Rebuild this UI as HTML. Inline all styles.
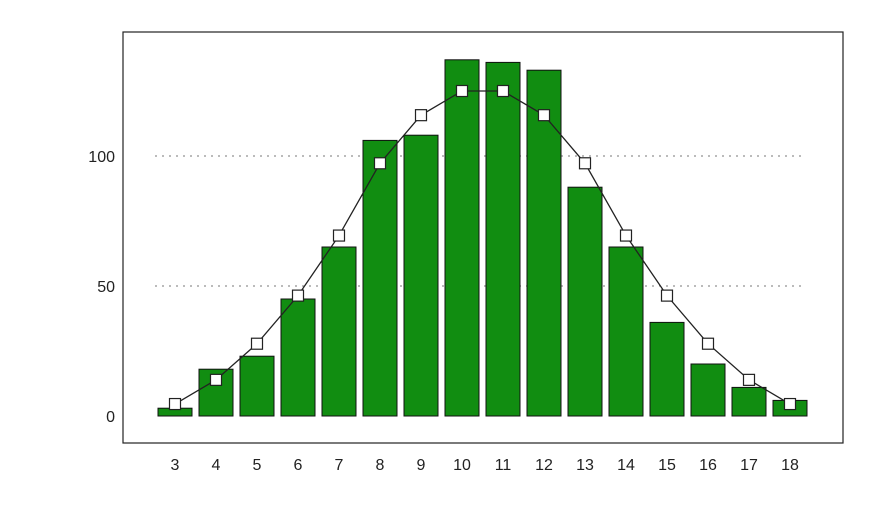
<!DOCTYPE html>
<html><head><meta charset="utf-8"><style>
body{margin:0;background:#fff;}
svg{display:block;font-family:"Liberation Sans",sans-serif;}
</style></head><body>
<svg id="chart" width="893" height="510" viewBox="0 0 893 510">
<rect x="123" y="32" width="720" height="411" fill="#fff" stroke="#222" stroke-width="1.2"/>
<g id="grid"></g><g id="bars"></g><g id="line"></g><g id="axes"></g>
</svg>
<script>
const categories=[3,4,5,6,7,8,9,10,11,12,13,14,15,16,17,18];
const observed=[3,18,23,45,65,106,108,137,136,133,88,65,36,20,11,6];
const expected=[4.6,13.9,27.8,46.3,69.4,97.2,115.7,125,125,115.7,97.2,69.4,46.3,27.8,13.9,4.6];
const yTicks=[0,50,100];
const NS="http://www.w3.org/2000/svg";
const xs=c=>175+(c-3)*41;
const ys=v=>416-v*2.6;
function mk(tag,attrs,parent){const e=document.createElementNS(NS,tag);for(const k in attrs)e.setAttribute(k,attrs[k]);parent.appendChild(e);return e;}
const grid=document.getElementById('grid'),bars=document.getElementById('bars'),line=document.getElementById('line'),axes=document.getElementById('axes');
yTicks.forEach(t=>{
  if(t>0){const g=mk('line',{x1:155,x2:806,y1:ys(t),y2:ys(t),stroke:'#777','stroke-dasharray':'2,5','stroke-width':1},grid);
  
  }
  const l=mk('text',{x:115,y:ys(t)+6,'text-anchor':'end','font-size':16,fill:'#222'},axes);l.textContent=t;
  
  
});
categories.forEach((c,i)=>{
  const b=mk('rect',{x:xs(c)-17,y:ys(observed[i]),width:34,height:ys(0)-ys(observed[i]),fill:'#118d11',stroke:'#111','stroke-width':1},bars);
  
  
  const l=mk('text',{x:xs(c),y:470,'text-anchor':'middle','font-size':16,fill:'#222'},axes);l.textContent=c;
  
  
});
const pl=mk('polyline',{points:categories.map((c,i)=>xs(c)+','+ys(expected[i])).join(' '),fill:'none',stroke:'#222','stroke-width':1.3},line);


categories.forEach((c,i)=>{
  const m=mk('rect',{x:xs(c)-5.5,y:ys(expected[i])-5.5,width:11,height:11,fill:'#fff',stroke:'#222','stroke-width':1.2},line);
  
  
});
</script>
</body></html>
